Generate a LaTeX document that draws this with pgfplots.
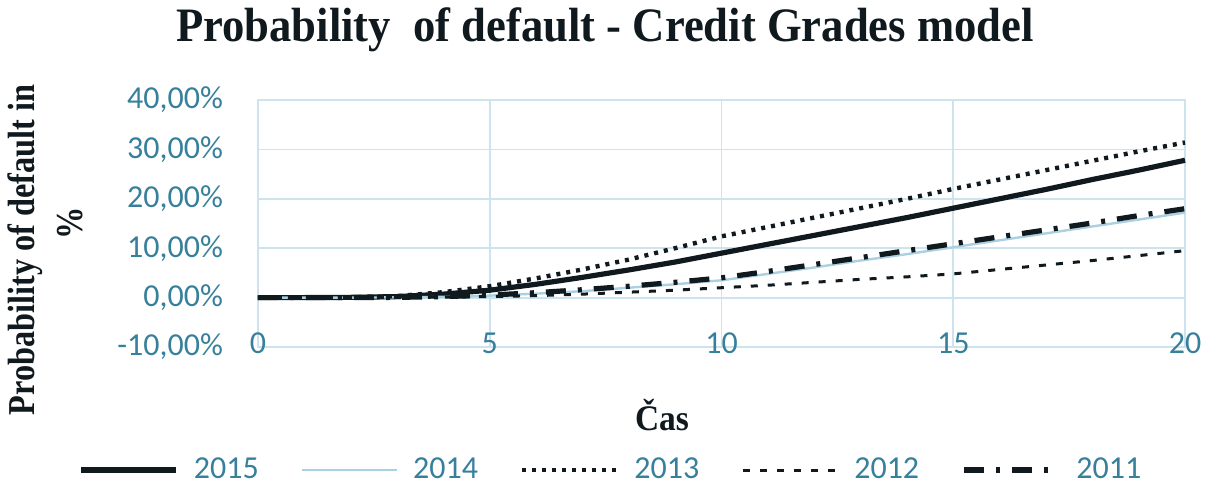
\documentclass[border=0pt]{standalone}
\usepackage{fontspec}
\setmainfont{Liberation Serif}
\newfontfamily\tickfont{Carlito}
\newfontfamily\titlefont[FakeStretch=0.93]{Liberation Serif}
\newfontfamily\ylabfont[FakeStretch=0.85]{Liberation Serif}
\usepackage{pgfplots}
\pgfplotsset{compat=1.18}
\definecolor{tickcol}{RGB}{55,128,155}
\definecolor{gridcol}{RGB}{205,227,237}
\definecolor{s2014}{RGB}{170,208,225}
\definecolor{darkc}{RGB}{15,25,30}
\begin{document}
\begin{tikzpicture}
\begin{axis}[
  scale only axis, width=463.5pt, height=123.5pt,
  at={(0,0)}, anchor=south west,
  xmin=0, xmax=20, ymin=-10, ymax=40,
  xtick={0,5,10,15,20}, xticklabels={0,5,10,15,20},
  ytick={-10,0,10,20,30,40},
  yticklabels={-10{,}00\%,0{,}00\%,10{,}00\%,20{,}00\%,30{,}00\%,40{,}00\%},
  major tick length=0pt,
  grid=major,
  major grid style={gridcol, line width=0.9pt},
  axis line style={gridcol, line width=0.9pt},
  ticklabel style={font=\tickfont\fontsize{16}{18}\selectfont, text=tickcol},
  yticklabel style={anchor=east, xshift=-14pt},
  xticklabel style={anchor=center, yshift=2pt},
  legend columns=5,
  legend style={draw=none, fill=none, at={(177pt,-61.5pt)}, anchor=center,
    font=\tickfont\fontsize{16}{18}\selectfont, text=tickcol,
    /tikz/every even column/.append style={column sep=19pt}},
  legend image code/.code={\draw[#1] (0pt,0pt) -- (47.5pt,0pt); \path (53pt,0pt);},
  clip=false,
]
\addplot[darkc, line width=2.6pt] coordinates {(0,0)(1,0)(2,0.05)(3,0.2)(4,0.7)(5,1.5)(6,2.7)(7,4.1)(8,5.6)(9,7.2)(10,9)(11,10.8)(12,12.6)(13,14.4)(14,16.2)(15,18.1)(16,20)(17,21.9)(18,23.9)(19,25.8)(20,27.8)};
\addlegendentry{2015}
\addplot[s2014, line width=1.2pt] coordinates {(0,0)(1,0)(2,0)(3,0.05)(4,0.15)(5,0.4)(6,0.8)(7,1.3)(8,2)(9,2.7)(10,3.5)(11,4.8)(12,6.1)(13,7.5)(14,8.8)(15,10.2)(16,11.6)(17,13)(18,14.4)(19,15.8)(20,17.2)};
\addlegendentry{2014}
\addplot[darkc, line width=2.2pt, dash pattern=on 2pt off 3pt] coordinates {(0,0)(1,0)(2,0.05)(3,0.3)(4,1.1)(5,2.3)(6,3.9)(7,5.7)(8,7.7)(9,10)(10,12.4)(11,14.3)(12,16.2)(13,18.1)(14,20)(15,22)(16,23.9)(17,25.8)(18,27.7)(19,29.6)(20,31.4)};
\addlegendentry{2013}
\addplot[darkc, line width=1.5pt, dash pattern=on 3.5pt off 5pt] coordinates {(0,0)(1,0)(2,0)(3,0)(4,0.1)(5,0.2)(6,0.4)(7,0.7)(8,1.1)(9,1.5)(10,2)(11,2.5)(12,3.1)(13,3.7)(14,4.2)(15,4.8)(16,5.7)(17,6.6)(18,7.5)(19,8.5)(20,9.5)};
\addlegendentry{2012}
\addplot[darkc, line width=2.6pt, dash pattern=on 10pt off 6pt on 2pt off 6pt] coordinates {(0,0)(1,0)(2,0)(3,0.05)(4,0.2)(5,0.5)(6,1)(7,1.6)(8,2.3)(9,3.1)(10,4)(11,5.3)(12,6.7)(13,8.1)(14,9.5)(15,10.9)(16,12.3)(17,13.7)(18,15.1)(19,16.6)(20,18)};
\addlegendentry{2011}
\end{axis}
\node[font=\titlefont\bfseries\fontsize{24}{28}\selectfont, text=darkc] at (173.5pt,158.5pt) {Probability\ \ of default - Credit Grades model};
\node[font=\ylabfont\bfseries\fontsize{19}{22}\selectfont, text=darkc, rotate=90] at (-116.5pt,48.5pt) {Probability of default in};
\node[font=\ylabfont\bfseries\fontsize{19}{22}\selectfont, text=darkc, rotate=90] at (-94pt,62pt) {\%};
\node[font=\titlefont\bfseries\fontsize{18}{22}\selectfont, text=darkc] at (202pt,-34pt) {Čas};
\pgfresetboundingbox
\useasboundingbox (-129pt,-73.5pt) rectangle (474.5pt,173.5pt);
\end{tikzpicture}
\end{document}
